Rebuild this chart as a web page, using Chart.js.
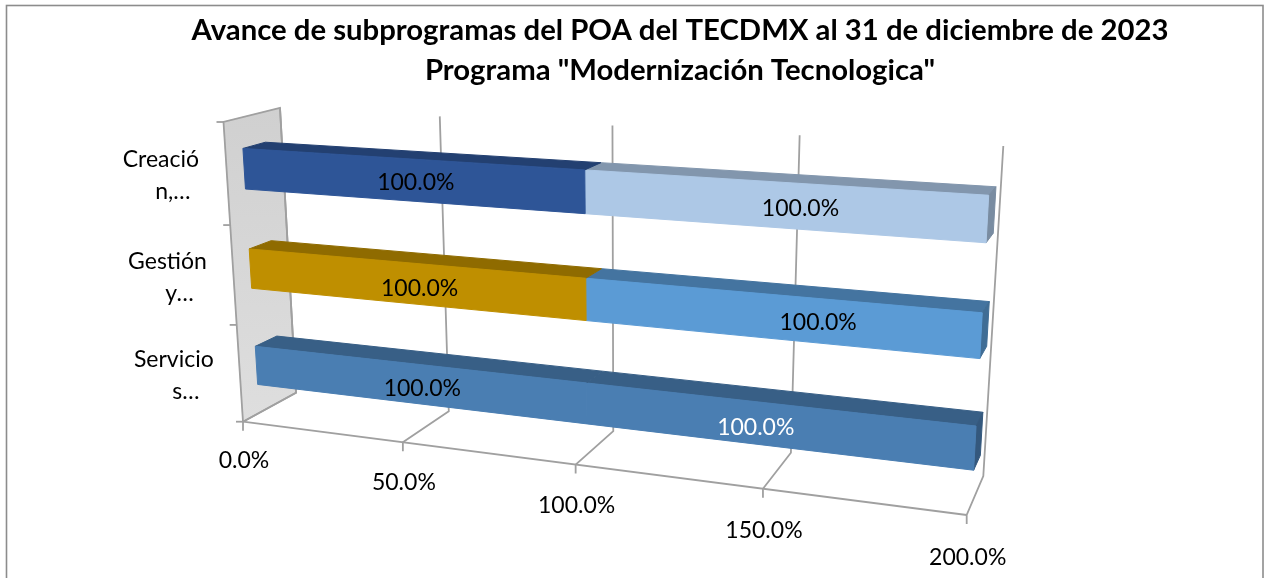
<!DOCTYPE html>
<html lang="es">
<head>
<meta charset="utf-8">
<title>Avance de subprogramas</title>
<script src="https://cdn.jsdelivr.net/npm/chart.js@4"></script>
<style>html,body{margin:0;padding:0;background:#fff}canvas{display:block}</style>
</head>
<body>
<canvas id="c" width="1264" height="578"></canvas>
<script>
const titleLines = ['Avance de subprogramas del POA del TECDMX al 31 de diciembre de 2023', 'Programa "Modernización Tecnologica"'];
const categories = [['Creació', 'n,…'], ['Gestión', 'y…'], ['Servicio', 's…']];
const firstSegment = [100, 100, 100];
const secondSegment = [100, 100, 100];
const firstColors = ['#2E5597', '#BF8F00', '#4A7EB2'];
const secondColors = ['#ADC8E6', '#5B9BD5', '#4A7EB2'];

// View of the 3-D box: the scale's chart area is projected onto these planes.
const FRONT = [[223.5,122],[985,165],[966.7,515],[243,421.7]];
const BACK  = [[280,108],[1003.3,146],[983.3,476],[296,392.7]];
const BAR_FRONT = 0.31, BAR_BACK = 0.71;
const FONT = 'Lato, "Open Sans", sans-serif';
const GREY = '#A0A0A0';

function homography(q){
  const [[x0,y0],[x1,y1],[x2,y2],[x3,y3]] = q;
  const dx1=x1-x2,dx2=x3-x2,sx=x0-x1+x2-x3,dy1=y1-y2,dy2=y3-y2,sy=y0-y1+y2-y3;
  const det=dx1*dy2-dx2*dy1;
  const g=(sx*dy2-dx2*sy)/det,h=(dx1*sy-sx*dy1)/det;
  const a=x1-x0+g*x1,b=x3-x0+h*x3,c=x0,d=y1-y0+g*y1,e=y3-y0+h*y3,f=y0;
  return (u,v)=>{const w=g*u+h*v+1;return [(a*u+b*v+c)/w,(d*u+e*v+f)/w];};
}
const planes = {};
function plane(depth){
  if(!planes[depth]){
    planes[depth]=homography(FRONT.map((p,i)=>[p[0]+(BACK[i][0]-p[0])*depth,p[1]+(BACK[i][1]-p[1])*depth]));
  }
  return planes[depth];
}
function project(chart,px,py,depth){
  const a=chart.chartArea;
  return plane(depth)((px-a.left)/(a.right-a.left),(py-a.top)/(a.bottom-a.top));
}
function shade(hex,k){
  const n=parseInt(hex.slice(1),16);
  const c=[n>>16,(n>>8)&255,n&255].map(v=>Math.round(v*k));
  return `rgb(${c[0]},${c[1]},${c[2]})`;
}
function poly(ctx,pts,fill){
  ctx.beginPath();
  pts.forEach((p,i)=>i?ctx.lineTo(p[0],p[1]):ctx.moveTo(p[0],p[1]));
  ctx.closePath();
  ctx.fillStyle=fill;
  ctx.fill();
  ctx.strokeStyle=fill;ctx.lineWidth=1;ctx.stroke();
}
function path(ctx,pts){
  ctx.beginPath();
  pts.forEach((p,i)=>i?ctx.lineTo(p[0],p[1]):ctx.moveTo(p[0],p[1]));
  ctx.stroke();
}

const labelNudge = [[[8,3],[23,4]],[[8,5],[43,6]],[[7,5],[-17,3]]];

const view3d = {
  id:'view3d',
  beforeDraw(chart){
    const ctx=chart.ctx;
    ctx.save();
    ctx.fillStyle='#fff';ctx.fillRect(0,0,chart.width,chart.height);
    ctx.strokeStyle='#8C8C8C';ctx.lineWidth=1.6;
    ctx.strokeRect(6.5,5.5,1256.5,chart.height+20);
    ctx.restore();
  },
  beforeDatasetsDraw(chart){
    const ctx=chart.ctx,a=chart.chartArea,xs=chart.scales.x,ys=chart.scales.y;
    const band=(a.bottom-a.top)/categories.length,top0=ys.getPixelForTick(0)-band/2;
    ctx.save();
    const wall=[project(chart,a.left,a.top,0),project(chart,a.left,a.top,1),project(chart,a.left,a.bottom,1),project(chart,a.left,a.bottom,0)];
    const g=ctx.createLinearGradient(0,108,0,420);
    g.addColorStop(0,'#D0D0D0');g.addColorStop(1,'#DEDEDE');
    poly(ctx,wall,g);
    ctx.strokeStyle=GREY;ctx.lineWidth=1.8;
    path(ctx,[wall[3],wall[0],wall[1],wall[2],wall[3]]);
    xs.ticks.forEach(t=>{
      const px=xs.getPixelForValue(t.value);
      const f=project(chart,px,a.bottom,0);
      path(ctx,[project(chart,px,a.top,1),project(chart,px,a.bottom,1),f,[f[0],f[1]+9]]);
    });
    path(ctx,[project(chart,a.left,a.bottom,0),project(chart,a.right,a.bottom,0)]);
    categories.concat([0]).forEach((c,i)=>{
      const p=project(chart,a.left,top0+i*band,0);
      path(ctx,[p,[p[0]-7,p[1]]]);
    });
    ctx.restore();
  },
  beforeDatasetDraw(chart,args){
    const ctx=chart.ctx,meta=args.meta,di=args.index,ds=chart.data.datasets[di];
    ctx.save();
    meta.data.forEach((bar,i)=>{
      const col=ds.backgroundColor[i];
      const t=bar.y-bar.height/2,b=bar.y+bar.height/2,x0=bar.base,x1=bar.x;
      const P=(x,y,d)=>project(chart,x,y,d);
      poly(ctx,[P(x0,t,BAR_FRONT),P(x1,t,BAR_FRONT),P(x1,t,BAR_BACK),P(x0,t,BAR_BACK)],shade(col,0.75));
      if(di===chart.data.datasets.length-1){
        poly(ctx,[P(x1,t,BAR_FRONT),P(x1,b,BAR_FRONT),P(x1,b,BAR_BACK),P(x1,t,BAR_BACK)],shade(col,0.7));
      }
      poly(ctx,[P(x0,t,BAR_FRONT),P(x1,t,BAR_FRONT),P(x1,b,BAR_FRONT),P(x0,b,BAR_FRONT)],col);
    });
    ctx.restore();
    return false;
  },
  afterDatasetsDraw(chart){
    const ctx=chart.ctx,a=chart.chartArea,xs=chart.scales.x,ys=chart.scales.y;
    ctx.save();
    ctx.textAlign='center';ctx.textBaseline='middle';
    ctx.font='23px '+FONT;
    chart.data.datasets.forEach((ds,di)=>{
      chart.getDatasetMeta(di).data.forEach((bar,i)=>{
        const p=project(chart,(bar.base+bar.x)/2,bar.y,BAR_FRONT);
        const n=labelNudge[i][di];
        ctx.fillStyle=(i===2&&di===1)?'#fff':'#000';
        ctx.fillText(ds.data[i].toFixed(1)+'%',p[0]+n[0],p[1]+n[1]);
      });
    });
    ctx.fillStyle='#000';
    xs.ticks.forEach((t,i)=>{
      const p=project(chart,xs.getPixelForValue(t.value),a.bottom,0);
      ctx.fillText(t.label,p[0]+1,p[1]+39+i);
    });
    categories.forEach((lines,i)=>{
      const p=project(chart,a.left,ys.getPixelForTick(i),0);
      ctx.fillText(lines[0],p[0]-66,p[1]-14);
      ctx.fillText(lines[1],p[0]-54,p[1]+18);
    });
    ctx.restore();
  }
};

new Chart(document.getElementById('c'),{
  type:'bar',
  data:{labels:categories,datasets:[
    {label:'Avance',data:firstSegment,backgroundColor:firstColors,stack:'a',categoryPercentage:1,barPercentage:0.4},
    {label:'Restante',data:secondSegment,backgroundColor:secondColors,stack:'a',categoryPercentage:1,barPercentage:0.4}
  ]},
  options:{
    indexAxis:'y',responsive:false,animation:false,
    layout:{padding:{left:96,top:8,right:0,bottom:20}},
    plugins:{
      legend:{display:false},tooltip:{enabled:false},
      title:{display:true,text:titleLines,color:'#000',font:{family:FONT,size:29.3,weight:'bold',lineHeight:1.365},padding:{top:3,bottom:10}}
    },
    scales:{
      x:{type:'linear',stacked:true,min:0,max:200,grid:{display:false},border:{display:false},
         ticks:{display:false,stepSize:50,callback:v=>v.toFixed(1)+'%'}},
      y:{stacked:true,grid:{display:false},border:{display:false},ticks:{display:false}}
    }
  },
  plugins:[view3d]
});
</script>
</body>
</html>
